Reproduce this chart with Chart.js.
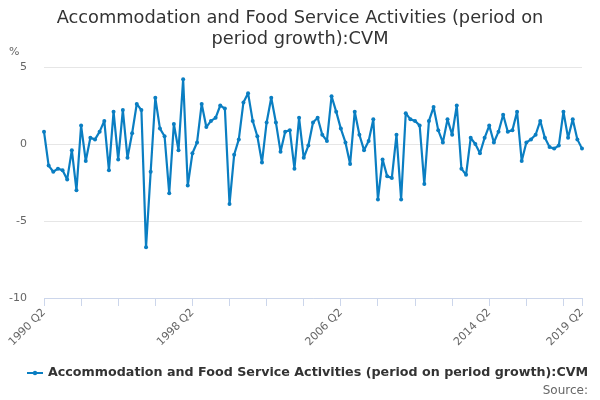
<!DOCTYPE html>
<html>
<head>
<meta charset="utf-8">
<script src="https://cdn.jsdelivr.net/npm/chart.js@4"></script>
<style>
html,body{margin:0;padding:0;background:#fff;}
#wrap{position:relative;width:600px;height:400px;}
</style>
</head>
<body>
<div id="wrap"><canvas id="c" width="600" height="400"></canvas></div>
<script>
const titleLines = ["Accommodation and Food Service Activities (period on", "period growth):CVM"];
const seriesName = "Accommodation and Food Service Activities (period on period growth):CVM";
const yUnit = "%";
const sourceText = "Source:";
const startYear = 1990;
const startQuarter = 2;
const quarterCount = 117;
const labeledTicks = ["1990 Q2", "1998 Q2", "2006 Q2", "2014 Q2", "2019 Q2"];
const yTicks = [5, 0, -5, -10];

const categories = [];
for (let i = 0; i < quarterCount; i++) {
  const q = startQuarter - 1 + i;
  categories.push((startYear + Math.floor(q / 4)) + " Q" + (q % 4 + 1));
}

const values = [
  0.8, -1.4, -1.8, -1.6, -1.7, -2.3, -0.4, -3.0, 1.2, -1.1,
  0.4, 0.3, 0.8, 1.5, -1.7, 2.1, -1.0, 2.2, -0.9, 0.7,
  2.6, 2.2, -6.7, -1.8, 3.0, 1.0, 0.5, -3.2, 1.3, -0.4,
  4.2, -2.7, -0.6, 0.1, 2.6, 1.1, 1.5, 1.7, 2.5, 2.3,
  -3.9, -0.7, 0.3, 2.7, 3.3, 1.5, 0.5, -1.2, 1.4, 3.0,
  1.4, -0.5, 0.8, 0.9, -1.6, 1.7, -0.9, -0.1, 1.4, 1.7,
  0.6, 0.2, 3.1, 2.1, 1.0, 0.1, -1.3, 2.1, 0.6, -0.4,
  0.2, 1.6, -3.6, -1.0, -2.1, -2.2, 0.6, -3.6, 2.0, 1.6,
  1.5, 1.2, -2.6, 1.5, 2.4, 0.9, 0.1, 1.6, 0.6, 2.5,
  -1.6, -2.0, 0.4, 0.0, -0.6, 0.4, 1.2, 0.1, 0.8, 1.9,
  0.8, 0.9, 2.1, -1.1, 0.1, 0.3, 0.6, 1.5, 0.4, -0.2,
  -0.3, -0.1, 2.1, 0.4, 1.6, 0.3, -0.3
];

const lineColor = "#0a7ec2";
const FONT = "'DejaVu Sans', Verdana, sans-serif";

const decorPlugin = {
  id: 'decor',
  afterDraw(chart) {
    const ctx = chart.ctx;
    ctx.save();
    // title
    ctx.fillStyle = '#333333';
    ctx.font = "17.8px " + FONT;
    ctx.textAlign = 'center';
    ctx.textBaseline = 'middle';
    ctx.fillText(titleLines[0], 300, 18);
    ctx.fillText(titleLines[1], 300, 39);
    // unit
    ctx.fillStyle = '#666666';
    ctx.font = "11px " + FONT;
    ctx.textAlign = 'left';
    ctx.fillText(yUnit, 9, 52);
    // legend
    const ly = 373;
    ctx.strokeStyle = lineColor;
    ctx.lineWidth = 2;
    ctx.beginPath();
    ctx.moveTo(27, ly);
    ctx.lineTo(43, ly);
    ctx.stroke();
    ctx.fillStyle = lineColor;
    ctx.beginPath();
    ctx.arc(35, ly, 2.2, 0, Math.PI * 2);
    ctx.fill();
    ctx.fillStyle = '#333333';
    ctx.font = "bold 12.7px " + FONT;
    ctx.textAlign = 'left';
    ctx.fillText(seriesName, 48, ly);
    // source
    ctx.fillStyle = '#666666';
    ctx.font = "12px " + FONT;
    ctx.textAlign = 'right';
    ctx.fillText(sourceText, 588, 391);
    ctx.restore();
  }
};

const tickIdx = (i) => i % 8 === 0 || i === quarterCount - 1;

new Chart(document.getElementById('c'), {
  type: 'line',
  data: {
    labels: categories,
    datasets: [{
      label: seriesName,
      data: values,
      borderColor: lineColor,
      backgroundColor: lineColor,
      borderWidth: 2.2,
      borderJoinStyle: 'round',
      borderCapStyle: 'round',
      pointRadius: 2,
      pointHoverRadius: 2,
      pointBackgroundColor: lineColor,
      pointBorderWidth: 0,
      tension: 0,
      fill: false
    }]
  },
  options: {
    responsive: false,
    animation: false,
    devicePixelRatio: 1,
    layout: { padding: { left: 0, right: 18, top: 67, bottom: 0 } },
    plugins: {
      legend: { display: false },
      title: { display: false },
      tooltip: { enabled: false }
    },
    scales: {
      x: {
        type: 'category',
        offset: false,
        afterFit(scale) { scale.height = 102; },
        grid: {
          display: true,
          drawOnChartArea: false,
          drawTicks: true,
          tickLength: 8,
          color: (c) => tickIdx(c.index) ? '#ccd6eb' : 'rgba(0,0,0,0)',
          lineWidth: 1
        },
        border: { display: true, color: '#ccd6eb', width: 1 },
        ticks: {
          autoSkip: false,
          maxRotation: 45,
          minRotation: 45,
          padding: 0,
          color: '#666666',
          font: { family: FONT, size: 11 },
          callback: function(v, i) {
            const lab = categories[i];
            return labeledTicks.includes(lab) ? lab : '';
          }
        }
      },
      y: {
        min: -10,
        max: 5,
        afterFit(scale) { scale.width = 44; },
        afterBuildTicks(scale) { scale.ticks = yTicks.map(v => ({ value: v })); },
        grid: {
          color: '#e6e6e6',
          lineWidth: 1,
          drawTicks: false
        },
        border: { display: false },
        ticks: {
          padding: 17,
          color: '#666666',
          font: { family: FONT, size: 11 },
          callback: (v) => String(v)
        }
      }
    }
  },
  plugins: [decorPlugin]
});
</script>
</body>
</html>
